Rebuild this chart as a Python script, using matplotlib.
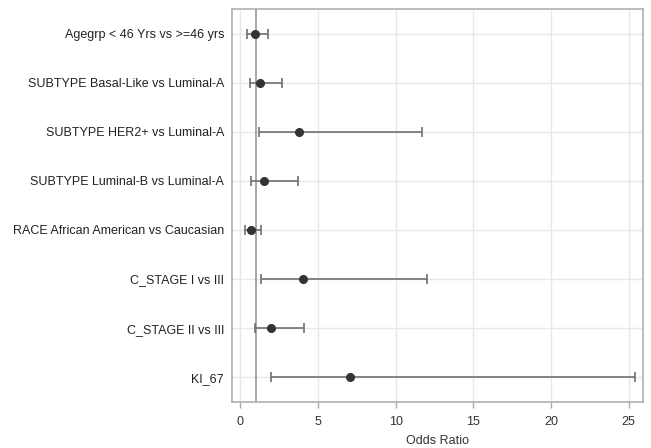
import numpy as np
import matplotlib.pyplot as plt

plt.rcParams['font.family'] = ['Liberation Sans', 'DejaVu Sans']

# odds ratio estimates with confidence limits, top to bottom
labels = ['Agegrp < 46 Yrs vs >=46 yrs',
          'SUBTYPE Basal-Like vs Luminal-A',
          'SUBTYPE HER2+ vs Luminal-A',
          'SUBTYPE Luminal-B vs Luminal-A',
          'RACE African American vs Caucasian',
          'C_STAGE I vs III',
          'C_STAGE II vs III',
          'KI_67']
odds = [0.93, 1.25, 3.76, 1.50, 0.67, 4.01, 1.98, 7.04]
lower = [0.45, 0.60, 1.22, 0.67, 0.32, 1.31, 0.97, 1.98]
upper = [1.80, 2.70, 11.69, 3.69, 1.33, 12.01, 4.10, 25.4]

odds = np.array(odds)
lower = np.array(lower)
upper = np.array(upper)
ypos = np.arange(len(labels))

fig = plt.figure(figsize=(6.51, 4.48), dpi=100)
ax = fig.add_axes([0.357, 0.103, 0.631, 0.877])

ax.set_axisbelow(True)
ax.grid(True, color='#e8e8e8', linewidth=1.0)

ax.axvline(1, color='#a0a0a0', linewidth=1.3, zorder=1)

ax.errorbar(odds, ypos, xerr=[odds - lower, upper - odds], fmt='o',
            color='#333333', ecolor='#707070', elinewidth=1.2,
            capsize=3.3, capthick=1.2, markersize=5.5, zorder=3)

ax.set_yticks(ypos)
ax.set_yticklabels(labels, fontsize=9, color='#222222')
ax.set_ylim(len(labels) - 0.5, -0.5)
ax.set_xlim(-0.51, 25.93)
ax.set_xticks([0, 5, 10, 15, 20, 25])
ax.tick_params(axis='x', labelsize=9, colors='#aaaaaa', labelcolor='#333333',
               length=4, width=1, pad=6)
ax.tick_params(axis='y', length=0, pad=6)
ax.set_xlabel('Odds Ratio', fontsize=9, color='#333333', labelpad=5)

for s in ax.spines.values():
    s.set_color('#b0b0b0')
    s.set_linewidth(1.2)

fig.savefig('out.png', dpi=100)
